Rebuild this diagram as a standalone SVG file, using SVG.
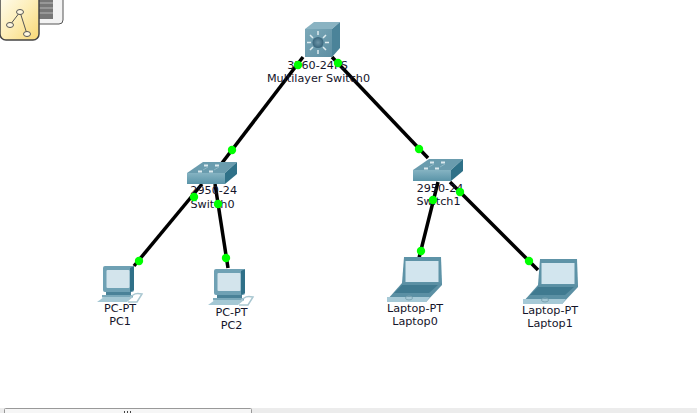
<svg xmlns="http://www.w3.org/2000/svg" width="697" height="413" viewBox="0 0 697 413">
<defs>
<style>
text{font-family:"DejaVu Sans",Verdana,sans-serif;font-size:11.2px;fill:#14142a;text-anchor:middle}
.link{stroke:#000;stroke-width:3.5;fill:none;stroke-linecap:butt}
.dot{fill:#00ff00}
</style>
<linearGradient id="icon" x1="0" y1="0" x2="1" y2="1"><stop offset="0" stop-color="#fffdf2"/><stop offset="0.5" stop-color="#fdeeb8"/><stop offset="1" stop-color="#f7d774"/></linearGradient>
<linearGradient id="front" x1="0" y1="0" x2="0" y2="1"><stop offset="0" stop-color="#85b3c2"/><stop offset="1" stop-color="#5a94a8"/></linearGradient>
<linearGradient id="cube" x1="0" y1="0" x2="1" y2="1"><stop offset="0" stop-color="#7ba8b8"/><stop offset="1" stop-color="#5e8fa3"/></linearGradient>
<radialGradient id="hub"><stop offset="0" stop-color="#6f96a8"/><stop offset="1" stop-color="#38657c"/></radialGradient>
<g id="sw">
<polygon points="0,11 16,0 50,0 38,11" fill="#6a9cae"/>
<rect x="0" y="11" width="38" height="11" fill="url(#front)"/>
<polygon points="38,11 50,0 50,12 38,22" fill="#2f7188"/>
<path d="M11,9.500h4M22,9.500h4M17,3.500h4M28,3.500h4" stroke="#dbe9ee" stroke-width="1.800"/>
<path d="M16,8 21,5M27,8 32,5" stroke="#8cb6c4"/>
</g>
<g id="pc">
<rect x="3" y="1" width="31" height="26" rx="2" fill="#6fa1b4"/>
<polygon points="30,3 34,1 34,25 30,27" fill="#2f7088"/>
<rect x="6.500" y="5" width="23" height="18" rx="1" fill="#d3e4ec"/>
<rect x="6" y="27" width="25" height="3" fill="#4a8298"/>
<rect x="2" y="30" width="31" height="2.500" fill="#7ba9ba"/>
<polygon points="4,32 33,32 27,37 -3,37" fill="#a5c8d4"/>
<path d="M29,34 c4,-6 8,-6 13,-5 l-5,8h-9" fill="none" stroke="#a9c7d1" stroke-width="1.500"/>
</g>
<g id="lap">
<polygon points="2,0 39,0 40,26 0,26" fill="#5e93a7"/>
<rect x="3.500" y="4" width="33" height="21" fill="#d2e5ee"/>
<polygon points="0,26 40,26 40,28 24,45 -15,45 -15,43" fill="#5b90a4"/>
<polygon points="0,28 36,28 27,36 -8,36" fill="#407a90"/>
<polygon points="-15,40 28,40 24,45 -15,45" fill="#a6c9d6"/>
<ellipse cx="7" cy="41" rx="3.500" ry="2" fill="none" stroke="#7ba3b2"/>
</g>
</defs>
<rect width="697" height="413" fill="#ffffff"/>
<g id="toolbar">
<rect x="20" y="-4" width="43" height="28" rx="4" fill="#f3f3f3" stroke="#555"/>
<rect x="36" y="-2" width="17" height="21" fill="#777"/>
<path d="M36,3h17M36,8h17M36,13h17" stroke="#b8b8b8"/>
<rect x="26" y="-3" width="9" height="6" fill="#fff" stroke="#444"/>
<rect x="0" y="-6" width="39" height="46" rx="6" fill="url(#icon)" stroke="#444" stroke-width="1.500"/>
<path d="M20,12 10,25M20,12 27,34" stroke="#555" fill="none"/>
<ellipse cx="20" cy="12" rx="3.500" ry="2.500" fill="#fff8e0" stroke="#555"/>
<ellipse cx="10" cy="25" rx="3.500" ry="2.500" fill="#fff8e0" stroke="#555"/>
<ellipse cx="27" cy="34" rx="3.500" ry="2.500" fill="#fff8e0" stroke="#555"/>
</g>
<g id="connectors">
<line class="link" x1="303" y1="57" x2="222" y2="163"/>
<line class="link" x1="332" y1="57" x2="428" y2="158"/>
<line class="link" x1="202" y1="184" x2="134" y2="266"/>
<line class="link" x1="215" y1="184" x2="228" y2="268"/>
<line class="link" x1="438" y1="182" x2="419" y2="258"/>
<line class="link" x1="450" y1="182" x2="538" y2="270"/>
</g>
<g id="multilayer-switch0">
<polygon points="305,29 314,22 340,22 332,29" fill="#8ab3c2"/>
<polygon points="332,29 340,22 340,48 332,57" fill="#4b8399"/>
<rect x="305" y="29" width="27" height="28" fill="url(#cube)"/>
<g stroke="#dfecf0" stroke-width="1.500">
<path d="M318,31v4M318,50v4M307,42.500h4M325,42.500h4M310,35l3,3M326,35l-3,3M310,50l3,-3M326,50l-3,-3"/>
</g>
<circle cx="318" cy="42.500" r="5.500" fill="url(#hub)"/>
<text x="317.500" y="69">3560-24PS</text>
<text x="318.500" y="82">Multilayer Switch0</text>
</g>
<g id="switch0"><use href="#sw" x="187" y="162"/><text x="213.700" y="194">2950-24</text><text x="212.500" y="208">Switch0</text></g>
<g id="switch1"><use href="#sw" x="413" y="159"/><text x="440" y="192">2950-24</text><text x="438.500" y="205">Switch1</text></g>
<g id="pc1"><use href="#pc" x="100" y="265"/><text x="120" y="312">PC-PT</text><text x="120" y="325">PC1</text></g>
<g id="pc2"><use href="#pc" x="211" y="268"/><text x="231.500" y="316">PC-PT</text><text x="231.500" y="329">PC2</text></g>
<g id="laptop0"><use href="#lap" x="402" y="257"/><text x="415" y="312">Laptop-PT</text><text x="415" y="325">Laptop0</text></g>
<g id="laptop1"><use href="#lap" x="538" y="259"/><text x="550" y="314">Laptop-PT</text><text x="550" y="327">Laptop1</text></g>
<g id="link-dots">
<circle class="dot" cx="298" cy="65" r="4.200"/><circle class="dot" cx="338" cy="63" r="4.200"/>
<circle class="dot" cx="232" cy="150" r="4.200"/><circle class="dot" cx="419" cy="149" r="4.200"/>
<circle class="dot" cx="194" cy="197" r="4.200"/><circle class="dot" cx="218" cy="204" r="4.200"/>
<circle class="dot" cx="433" cy="200" r="4.200"/><circle class="dot" cx="460" cy="192" r="4.200"/>
<circle class="dot" cx="139" cy="261" r="4.200"/><circle class="dot" cx="226" cy="258" r="4.200"/>
<circle class="dot" cx="421" cy="251" r="4.200"/><circle class="dot" cx="529" cy="261" r="4.200"/>
</g>
<g id="scrollbar">
<rect x="0" y="408" width="697" height="5" fill="#ececec"/>
<rect x="4.500" y="408.500" width="247" height="8" rx="1" fill="#f6f6f6" stroke="#999"/>
<path d="M124.500,411v2M127.500,411v2M130.500,411v2" stroke="#444"/>
</g>
</svg>
